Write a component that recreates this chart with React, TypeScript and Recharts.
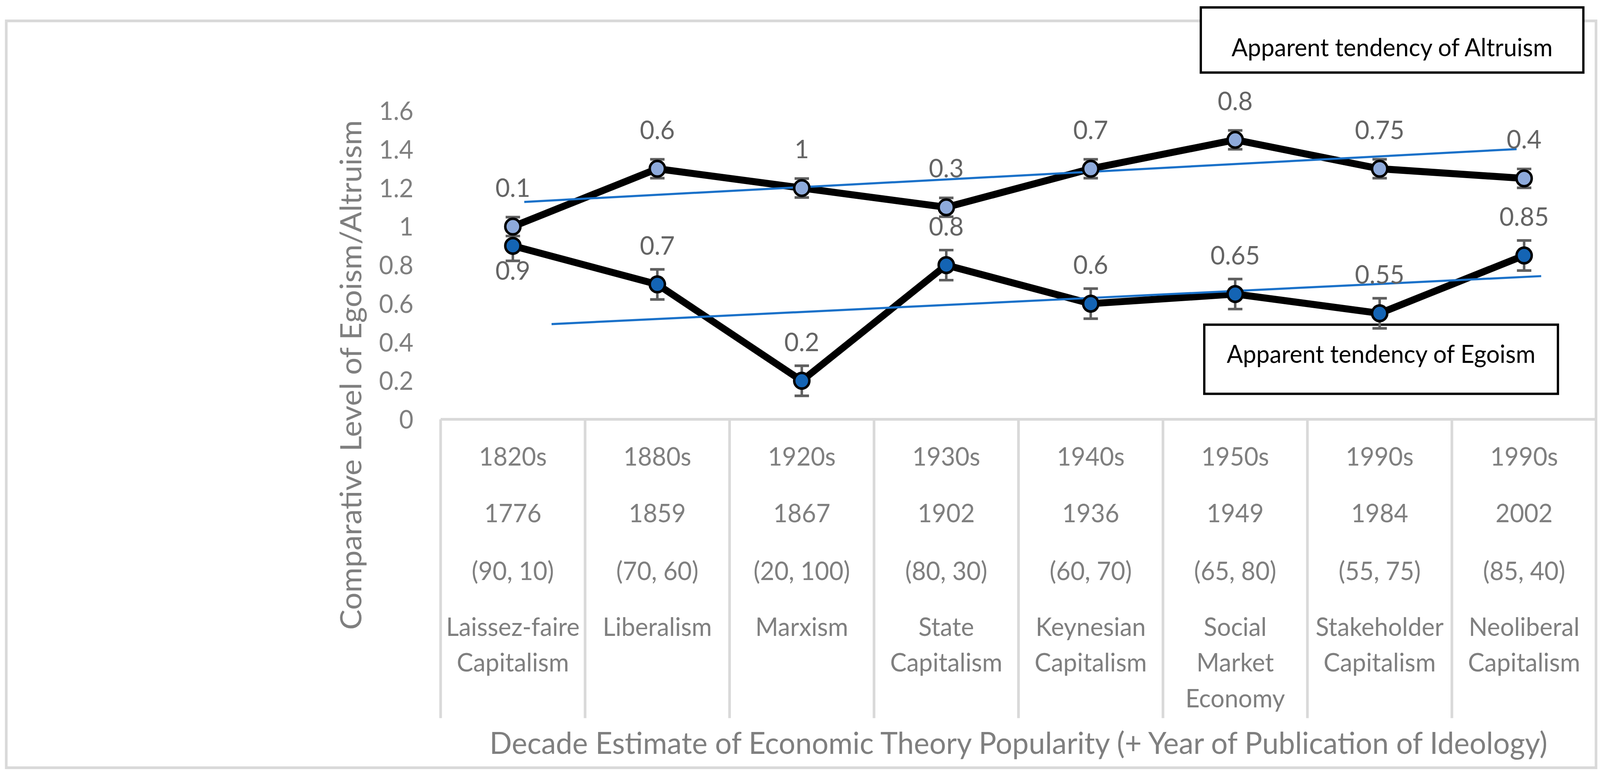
import React from 'react';
import {
  LineChart,
  Line,
  XAxis,
  YAxis,
  ErrorBar,
  LabelList,
  ReferenceLine,
  ReferenceArea,
  Label,
} from 'recharts';

// ---------- data ----------
const decades = ['1820s', '1880s', '1920s', '1930s', '1940s', '1950s', '1990s', '1990s'];
const publicationYears = ['1776', '1859', '1867', '1902', '1936', '1949', '1984', '2002'];
const scorePairs = ['(90, 10)', '(70, 60)', '(20, 100)', '(80, 30)', '(60, 70)', '(65, 80)', '(55, 75)', '(85, 40)'];
const theoryLines = [
  ['Laissez-faire', 'Capitalism'],
  ['Liberalism'],
  ['Marxism'],
  ['State', 'Capitalism'],
  ['Keynesian', 'Capitalism'],
  ['Social', 'Market', 'Economy'],
  ['Stakeholder', 'Capitalism'],
  ['Neoliberal', 'Capitalism'],
];

const altruismValues = [1.0, 1.3, 1.2, 1.1, 1.3, 1.45, 1.3, 1.25];
const altruismLabels = ['0.1', '0.6', '1', '0.3', '0.7', '0.8', '0.75', '0.4'];
const egoismValues = [0.9, 0.7, 0.2, 0.8, 0.6, 0.65, 0.55, 0.85];
const egoismLabels = ['0.9', '0.7', '0.2', '0.8', '0.6', '0.65', '0.55', '0.85'];
const altruismError = 0.049;
const egoismError = 0.078;

const yTicks = [0, 0.2, 0.4, 0.6, 0.8, 1, 1.2, 1.4, 1.6];
const xTicks = [0, 1, 2, 3, 4, 5, 6, 7];
const dividerPositions = [-0.5, 0.5, 1.5, 2.5, 3.5, 4.5, 5.5, 6.5];
const dividerBottom = -1.5505;

const altruismTrend = [
  { x: 0.079, y: 1.128 },
  { x: 6.948, y: 1.402 },
];
const egoismTrend = [
  { x: 0.268, y: 0.494 },
  { x: 7.118, y: 0.743 },
];

const altruismBox = { x1: 4.762, x2: 7.41, y1: 1.799, y2: 2.137, text: 'Apparent tendency of Altruism' };
const egoismBox = { x1: 4.786, x2: 7.234, y1: 0.132, y2: 0.491, text: 'Apparent tendency of Egoism' };

const rows = decades.map((d, i) => ({
  x: i,
  altruism: altruismValues[i],
  altLabel: altruismLabels[i],
  altErr: altruismError,
  egoism: egoismValues[i],
  egoLabel: egoismLabels[i],
  egoErr: egoismError,
}));

// ---------- styles ----------
const W = 4218;
const H = 1979;
const FONT = "Lato, 'Open Sans', sans-serif";
const AXIS_TEXT = '#7f7f7f';
const LABEL_TEXT = '#646464';
const GRID = '#d9d9d9';

const CategoryTick = (props: any) => {
  const { x, y, payload } = props;
  const i = payload.value as number;
  const base = [118.5, 263.5, 412, 554.5];
  const lines: string[] = [decades[i], publicationYears[i], scorePairs[i]];
  const ys: number[] = [base[0], base[1], base[2]];
  theoryLines[i].forEach((t, k) => {
    lines.push(t);
    ys.push(base[3] + k * 91.5);
  });
  return (
    <g>
      {lines.map((t, k) => (
        <text
          key={k}
          x={x}
          y={y + ys[k]}
          textAnchor="middle"
          fill={AXIS_TEXT}
          fontFamily={FONT}
          fontSize={65}
        >
          {t}
        </text>
      ))}
    </g>
  );
};

const ValueTick = (props: any) => {
  const { x, y, payload } = props;
  return (
    <text x={x - 71.6} y={y} dy="0.36em" textAnchor="end" fill={AXIS_TEXT} fontFamily={FONT} fontSize={65}>
      {String(payload.value)}
    </text>
  );
};

const altLabelRenderer = (props: any) => {
  const { x, y, value } = props;
  return (
    <text x={x} y={y - 100} dy="0.36em" textAnchor="middle" fill={LABEL_TEXT} fontFamily={FONT} fontSize={66}>
      {value}
    </text>
  );
};

const egoLabelRenderer = (props: any) => {
  const { x, y, value, index } = props;
  const cy = index === 0 ? y + 63 : y - 100;
  return (
    <text x={x} y={cy} dy="0.36em" textAnchor="middle" fill={LABEL_TEXT} fontFamily={FONT} fontSize={66}>
      {value}
    </text>
  );
};

const makeBoxLabel = (text: string, baselineOffset: number) => (props: any) => {
  const vb = props.viewBox || {};
  return (
    <text
      x={vb.x + vb.width / 2}
      y={vb.y + baselineOffset}
      textAnchor="middle"
      fill="#000"
      fontFamily={FONT}
      fontSize={63}
    >
      {text}
    </text>
  );
};

const xTitle = (props: any) => {
  const vb = props.viewBox || {};
  return (
    <text
      x={vb.x + vb.width / 2}
      y={vb.y + 856.5}
      textAnchor="middle"
      fill={AXIS_TEXT}
      fontFamily={FONT}
      fontSize={77.5}
    >
      Decade Estimate of Economic Theory Popularity (+ Year of Publication of Ideology)
    </text>
  );
};

const yTitle = (props: any) => {
  const vb = props.viewBox || {};
  const cx = vb.x - 8.6;
  const cy = vb.y + 676;
  return (
    <text
      x={cx}
      y={cy}
      transform={`rotate(-90 ${cx} ${cy})`}
      textAnchor="middle"
      fill={AXIS_TEXT}
      fontFamily={FONT}
      fontSize={78}
    >
      Comparative Level of Egoism/Altruism
    </text>
  );
};

export default function App() {
  const vw = typeof window !== 'undefined' && window.innerWidth ? window.innerWidth : W;
  const vh = typeof window !== 'undefined' && window.innerHeight ? window.innerHeight : H;
  const sx = vw / W;
  const sy = vh / H;
  return (
    <div
      style={{
        position: 'absolute',
        left: 0,
        top: 0,
        width: W,
        height: H,
        background: '#fff',
        transform: `scale(${sx}, ${sy})`,
        transformOrigin: '0 0',
      }}
    >
      <div
        style={{
          position: 'absolute',
          left: 12.5,
          top: 49.5,
          width: 4198,
          height: 1919,
          border: `7px solid ${GRID}`,
          boxSizing: 'border-box',
        }}
      />
      <div style={{ position: 'absolute', left: 0, top: 0 }}>
        <LineChart
          width={W}
          height={H}
          data={rows}
          margin={{ top: 284, right: 9.6, bottom: 0, left: 961.6 }}
        >
          <XAxis
            type="number"
            dataKey="x"
            domain={[-0.5, 7.5]}
            ticks={xTicks}
            interval={0}
            height={905.5}
            axisLine={{ stroke: GRID, strokeWidth: 7 }}
            tickLine={false}
            tickSize={0}
            tickMargin={0}
            tick={<CategoryTick />}
          >
            <Label content={xTitle} />
          </XAxis>
          <YAxis
            type="number"
            domain={[0, 1.6]}
            ticks={yTicks}
            interval={0}
            width={200}
            axisLine={false}
            tickLine={false}
            tickSize={0}
            tickMargin={0}
            tick={<ValueTick />}
          >
            <Label content={yTitle} />
          </YAxis>

          {dividerPositions.map((d) => (
            <ReferenceLine
              key={d}
              segment={[
                { x: d, y: 0 },
                { x: d, y: dividerBottom },
              ]}
              stroke={GRID}
              strokeWidth={7}
              ifOverflow="visible"
            />
          ))}

          <Line
            dataKey="altruism"
            stroke="#000"
            strokeWidth={18}
            dot={{ r: 20, fill: '#8eaadb', stroke: '#000', strokeWidth: 6.5 }}
            activeDot={false}
            isAnimationActive={false}
          >
            <ErrorBar dataKey="altErr" direction="y" width={19} strokeWidth={6.7} stroke="#5f5f5f" />
            <LabelList dataKey="altLabel" content={altLabelRenderer} />
          </Line>
          <Line
            dataKey="egoism"
            stroke="#000"
            strokeWidth={18}
            dot={{ r: 20, fill: '#1464b4', stroke: '#000', strokeWidth: 6.5 }}
            activeDot={false}
            isAnimationActive={false}
          >
            <ErrorBar dataKey="egoErr" direction="y" width={19} strokeWidth={6.7} stroke="#5f5f5f" />
            <LabelList dataKey="egoLabel" content={egoLabelRenderer} />
          </Line>

          <Line
            data={altruismTrend}
            dataKey="y"
            stroke="#1a71c9"
            strokeWidth={5.5}
            dot={false}
            activeDot={false}
            isAnimationActive={false}
          />
          <Line
            data={egoismTrend}
            dataKey="y"
            stroke="#1a71c9"
            strokeWidth={5.5}
            dot={false}
            activeDot={false}
            isAnimationActive={false}
          />

          <ReferenceArea
            x1={altruismBox.x1}
            x2={altruismBox.x2}
            y1={altruismBox.y1}
            y2={altruismBox.y2}
            fill="#fff"
            fillOpacity={1}
            stroke="#000"
            strokeWidth={6}
            ifOverflow="visible"
          >
            <Label content={makeBoxLabel(altruismBox.text, 125)} />
          </ReferenceArea>
          <ReferenceArea
            x1={egoismBox.x1}
            x2={egoismBox.x2}
            y1={egoismBox.y1}
            y2={egoismBox.y2}
            fill="#fff"
            fillOpacity={1}
            stroke="#000"
            strokeWidth={6}
            ifOverflow="visible"
          >
            <Label content={makeBoxLabel(egoismBox.text, 98)} />
          </ReferenceArea>
        </LineChart>
      </div>
    </div>
  );
}
